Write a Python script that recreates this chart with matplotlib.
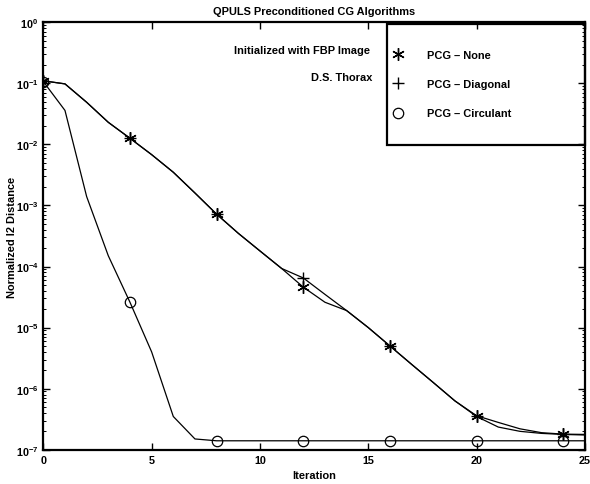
import numpy as np
import matplotlib
matplotlib.use("Agg")
from matplotlib import pyplot as plt
from matplotlib.patches import Rectangle
from matplotlib.ticker import LogLocator, FixedLocator, NullFormatter, FuncFormatter

plt.rcParams['font.family'] = ['Liberation Sans', 'DejaVu Sans']
plt.rcParams['font.weight'] = 'bold'
plt.rcParams['mathtext.fontset'] = 'custom'
plt.rcParams['mathtext.rm'] = 'Liberation Sans:bold'
plt.rcParams['mathtext.bf'] = 'Liberation Sans:bold'

iterations = list(range(26))

pcg_none = [1.10e-1, 9.8e-2, 4.9e-2, 2.3e-2, 1.26e-2, 6.8e-3, 3.5e-3, 1.6e-3, 7.2e-4,
            3.5e-4, 1.8e-4, 9.3e-5, 4.6e-5, 2.6e-5, 1.9e-5, 1.0e-5, 5.0e-6, 2.5e-6,
            1.26e-6, 6.3e-7, 3.6e-7, 2.8e-7, 2.2e-7, 1.9e-7, 1.8e-7, 1.78e-7]
pcg_diagonal = [1.10e-1, 9.8e-2, 4.9e-2, 2.3e-2, 1.26e-2, 6.8e-3, 3.5e-3, 1.6e-3, 7.2e-4,
                3.5e-4, 1.8e-4, 9.3e-5, 6.5e-5, 3.5e-5, 1.9e-5, 1.0e-5, 5.0e-6, 2.5e-6,
                1.26e-6, 6.3e-7, 3.5e-7, 2.35e-7, 2.0e-7, 1.85e-7, 1.78e-7, 1.74e-7]
pcg_circulant = [1.07e-1, 3.6e-2, 1.4e-3, 1.5e-4, 2.6e-5, 4.0e-6, 3.5e-7, 1.5e-7,
                 1.4e-7, 1.4e-7, 1.4e-7, 1.4e-7, 1.4e-7, 1.4e-7, 1.4e-7, 1.4e-7,
                 1.4e-7, 1.4e-7, 1.4e-7, 1.4e-7, 1.4e-7, 1.4e-7, 1.4e-7, 1.4e-7,
                 1.4e-7, 1.4e-7]

labels = ['PCG \u2013 None', 'PCG \u2013 Diagonal', 'PCG \u2013 Circulant']

fs = 7.9

fig = plt.figure(figsize=(5.9, 4.85), dpi=100)
ax = fig.add_axes([0.0734, 0.0707, 0.918, 0.8813])

lw = 0.9
ax.plot(iterations, pcg_none, color='black', lw=lw, marker=(6, 2, 0), ms=9,
        mew=1.0, markevery=4, label=labels[0])
ax.plot(iterations, pcg_diagonal, color='black', lw=lw, marker='+', ms=9,
        mew=1.0, markevery=4, label=labels[1])
ax.plot(iterations, pcg_circulant, color='black', lw=lw, marker='o', ms=7.5,
        mew=0.9, mfc='none', markevery=4, label=labels[2])

ax.set_yscale('log')
ax.set_xlim(0, 25)
ax.set_ylim(1e-7, 1e0)
ax.xaxis.set_major_locator(FixedLocator([0, 5, 10, 15, 20, 25]))
ax.yaxis.set_major_locator(LogLocator(base=10, numticks=10))
ax.yaxis.set_minor_locator(LogLocator(base=10, subs=np.arange(2, 10), numticks=10))
ax.yaxis.set_minor_formatter(NullFormatter())
ax.yaxis.set_major_formatter(FuncFormatter(lambda v, p: r'$\mathbf{10^{%d}}$' % round(np.log10(v))))

ax.tick_params(which='both', direction='in', top=True, right=True, labelsize=7.8)
ax.tick_params(which='major', length=5, width=1.0)
ax.tick_params(which='minor', length=2.5, width=0.7)
for s in ax.spines.values():
    s.set_linewidth(1.6)

ax.set_title('QPULS Preconditioned CG Algorithms', fontsize=fs, fontweight='bold', pad=6)
ax.set_xlabel('Iteration', fontsize=fs, fontweight='bold')
ax.set_ylabel('Normalized l2 Distance', fontsize=fs, fontweight='bold')
ax.xaxis.set_label_coords(0.5, -0.047)
ax.yaxis.set_label_coords(-0.049, 0.5)

ax.text(0.603, 0.934, 'Initialized with FBP Image', transform=ax.transAxes,
        ha='right', va='center', fontsize=fs, fontweight='bold')
ax.text(0.607, 0.872, 'D.S. Thorax', transform=ax.transAxes,
        ha='right', va='center', fontsize=fs, fontweight='bold')

# legend box drawn separately so the padding can match the reference
ax.add_patch(Rectangle((0.634, 0.714), 0.366, 0.282, transform=ax.transAxes,
                       fill=False, edgecolor='black', lw=1.6, clip_on=False, zorder=5))
leg = ax.legend(loc='upper left', bbox_to_anchor=(0.6456, 0.935), fontsize=fs,
                frameon=False, borderpad=0.0, labelspacing=1.75, handlelength=1.0,
                handletextpad=2.1, borderaxespad=0.0, markerfirst=True)
for h in leg.legend_handles:
    h.set_linestyle('none')
for t in leg.get_texts():
    t.set_fontweight('bold')

fig.savefig('out.png', dpi=100)
